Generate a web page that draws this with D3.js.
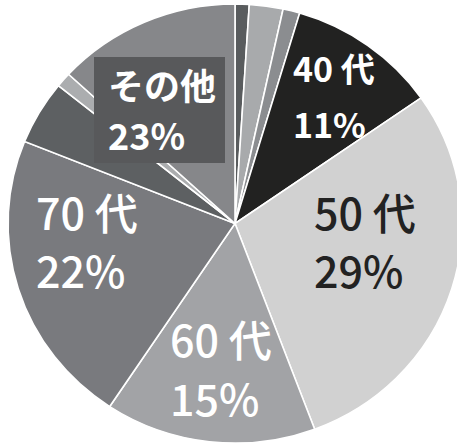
<!DOCTYPE html>
<html><head><meta charset="utf-8">
<script src="https://cdn.jsdelivr.net/npm/d3@7"></script>
<style>
html,body{margin:0;padding:0;background:#fff;}
svg{display:block;}
</style></head>
<body>
<svg id="chart" width="457" height="444"></svg>
<script>
// Slices clockwise from 12 o'clock (percent)
const sliceNames = ["その他a","その他b","その他c","40代","50代","60代","70代","その他d","その他e","その他f"];
const sliceValues = [1.0, 2.4, 1.2, 10.7, 29.0, 15.0, 21.8, 4.7, 1.1, 13.1];
const sliceColors = ["#595c5e","#a8aaac","#8b8d90","#222221","#d1d1d1","#a2a3a6","#797a7e","#5d6062","#abadaf","#86878a"];

const labelNames = ["40 代","50 代","60 代","70 代","その他"];
const labelPercents = ["11%","29%","15%","22%","23%"];

const svg = d3.select("#chart");
const cx = 235, cy = 223.5, rx = 227, ry = 219.5;

const pie = d3.pie().sort(null).value(d => d.v);
const arcs = pie(sliceValues.map((v,i)=>({v, name: sliceNames[i], color: sliceColors[i]})));
const arc = d3.arc().innerRadius(0).outerRadius(1);

const g = svg.append("g").attr("transform", `translate(${cx},${cy}) scale(${rx},${ry})`);
g.selectAll("path").data(arcs).join("path")
  .attr("d", arc)
  .attr("fill", d => d.data.color)
  .attr("stroke", "#fff")
  .attr("stroke-width", 1.6)
  .attr("vector-effect", "non-scaling-stroke");

// label box for その他
svg.append("rect").attr("x", 94).attr("y", 57).attr("width", 131).attr("height", 106).attr("fill", "#58595b");

const font = "'Noto Sans CJK JP',sans-serif";
const layout = [
  {x: 293, y1: 82, y2: 138, size: 34, weight: 700, color: "#fff"},
  {x: 314, y1: 230, y2: 288, size: 43, weight: 500, color: "#222"},
  {x: 170, y1: 357, y2: 416, size: 43, weight: 500, color: "#fff"},
  {x: 36,  y1: 230, y2: 288, size: 43, weight: 500, color: "#fff"},
  {x: 108, y1: 100, y2: 150, size: 36, weight: 700, color: "#fff"}
];
labelNames.forEach((n,i) => {
  const L = layout[i];
  svg.append("text").attr("x", L.x).attr("y", L.y1)
    .attr("font-family", font).attr("font-size", L.size).attr("font-weight", L.weight)
    .attr("fill", L.color).text(n);
  svg.append("text").attr("x", L.x).attr("y", L.y2)
    .attr("font-family", font).attr("font-size", L.size).attr("font-weight", L.weight)
    .attr("fill", L.color).text(labelPercents[i]);
});
</script>
</body></html>
